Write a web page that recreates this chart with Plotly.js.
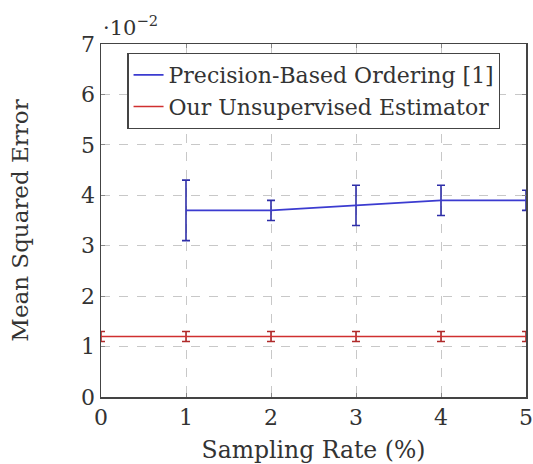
<!DOCTYPE html>
<html>
<head>
<meta charset="utf-8">
<script src="https://cdn.plot.ly/plotly-3.0.1.min.js"></script>
<style>html,body{margin:0;padding:0;background:#fff;}#chart{width:533px;height:464px;}</style>
</head>
<body>
<div id="chart"></div>
<script>
// values in units of 10^-2
const precisionX = [1, 2, 3, 4, 5];
const precisionY = [3.7, 3.7, 3.8, 3.9, 3.9];
const precisionErr = [0.6, 0.2, 0.4, 0.3, 0.2];
const oursX = [0, 1, 2, 3, 4, 5];
const oursY = [1.2, 1.2, 1.2, 1.2, 1.2, 1.2];
const oursErr = [0.1, 0.1, 0.1, 0.1, 0.1, 0.1];
const seriesNames = ['Precision-Based Ordering [1]', 'Our Unsupervised Estimator'];
const xTicks = [0, 1, 2, 3, 4, 5];
const yTicks = [0, 1, 2, 3, 4, 5, 6, 7];

const fontFam = 'DejaVu Serif, Liberation Serif, serif';
const txtCol = '#333333';
const traces = [
  {x: precisionX, y: precisionY, name: seriesNames[0], type: 'scatter', mode: 'lines',
   line: {color: '#3b3bd0', width: 1.6},
   error_y: {type: 'data', array: precisionErr, visible: true, color: '#2e2ea8', thickness: 1.6, width: 4}},
  {x: oursX, y: oursY, name: seriesNames[1], type: 'scatter', mode: 'lines',
   line: {color: '#d03030', width: 1.6},
   error_y: {type: 'data', array: oursErr, visible: true, color: '#b02a2a', thickness: 1.6, width: 4}}
];
const axisCommon = {
  showline: true, linecolor: '#444', linewidth: 1.5, mirror: 'ticks',
  ticks: 'inside', ticklen: 4, tickcolor: '#888',
  showgrid: true, gridcolor: '#c8c8c8', griddash: 'dash', gridwidth: 1,
  zeroline: false, tickfont: {family: fontFam, size: 22, color: txtCol}
};
const layout = {
  width: 533, height: 464,
  margin: {l: 101, r: 7, t: 44, b: 67},
  paper_bgcolor: '#fff', plot_bgcolor: '#fff',
  font: {family: fontFam, color: txtCol},
  showlegend: true,
  legend: {x: 0.062, y: 0.975, xanchor: 'left', yanchor: 'top',
    bgcolor: '#fff', bordercolor: '#444', borderwidth: 1.2,
    font: {family: fontFam, size: 22, color: txtCol}, tracegroupgap: 0, itemwidth: 30},
  xaxis: Object.assign({}, axisCommon, {range: [0, 5], tickvals: xTicks,
    title: {text: 'Sampling Rate (%)', font: {family: fontFam, size: 23.5, color: txtCol}, standoff: 14}}),
  yaxis: Object.assign({}, axisCommon, {range: [0, 7], tickvals: yTicks,
    title: {text: 'Mean Squared Error', font: {family: fontFam, size: 23, color: txtCol}, standoff: 46}}),
  annotations: [{xref: 'paper', yref: 'paper', x: 0.0, y: 1.0, xanchor: 'left', yanchor: 'bottom', yshift: 2,
    text: '·10<sup>−2</sup>', showarrow: false, font: {family: fontFam, size: 21, color: txtCol}}]
};
Plotly.newPlot('chart', traces, layout, {displayModeBar: false, staticPlot: true});
</script>
</body>
</html>
